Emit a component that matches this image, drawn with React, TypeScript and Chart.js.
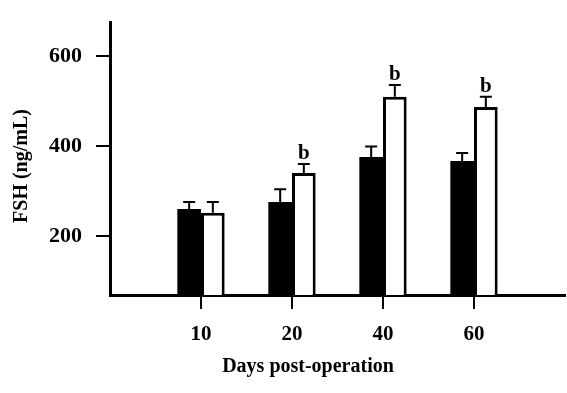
import React, { useEffect, useRef } from 'react';
import { Chart, registerables } from 'chart.js';
Chart.register(...registerables);

const categories = ['10', '20', '40', '60'];
const controlMeans = [260, 276, 376, 367];
const controlErrors = [16, 28, 23, 18];
const treatedMeans = [252, 340, 510, 487];
const treatedErrors = [24, 20, 26, 23];
const treatedMarks = ['', 'b', 'b', 'b'];
const yTicks = [200, 400, 600];
const xTitle = 'Days post-operation';
const yTitle = 'FSH (ng/mL)';

const SERIF = "'Liberation Serif', 'Times New Roman', 'DejaVu Serif', serif";

const errorPlugin = {
  id: 'errorBars',
  afterDatasetsDraw(chart: any) {
    const ctx = chart.ctx;
    const yScale = chart.scales.y;
    const sets = [
      { means: controlMeans, errs: controlErrors, marks: null as string[] | null },
      { means: treatedMeans, errs: treatedErrors, marks: treatedMarks },
    ];
    ctx.save();
    ctx.strokeStyle = '#000';
    ctx.fillStyle = '#000';
    ctx.lineWidth = 2;
    sets.forEach((s, di) => {
      const meta = chart.getDatasetMeta(di);
      meta.data.forEach((bar: any, j: number) => {
        const x = bar.x;
        const yTop = yScale.getPixelForValue(s.means[j] + s.errs[j]);
        const yBar = bar.y;
        ctx.beginPath();
        ctx.moveTo(x, yBar);
        ctx.lineTo(x, yTop);
        ctx.moveTo(x - 6, yTop);
        ctx.lineTo(x + 6, yTop);
        ctx.stroke();
        if (s.marks && s.marks[j]) {
          ctx.font = `bold 21px ${SERIF}`;
          ctx.textAlign = 'center';
          ctx.textBaseline = 'alphabetic';
          ctx.fillText(s.marks[j], x, yTop - 5);
        }
      });
    });
    ctx.restore();
  },
};

const titlePlugin = {
  id: 'axisTitles',
  afterDraw(chart: any) {
    const ctx = chart.ctx;
    ctx.save();
    ctx.fillStyle = '#000';
    ctx.font = `bold 20px ${SERIF}`;
    ctx.textAlign = 'center';
    ctx.textBaseline = 'middle';
    ctx.fillText(xTitle, 308, 367);
    ctx.translate(22, 166);
    ctx.rotate(-Math.PI / 2);
    ctx.font = `bold 20px ${SERIF}`;
    ctx.fillText(yTitle, 0, 0);
    ctx.restore();
  },
};

export default function App() {
  const ref = useRef<HTMLCanvasElement | null>(null);
  useEffect(() => {
    if (!ref.current) return;
    const chart = new Chart(ref.current, {
      type: 'bar',
      data: {
        datasets: [
          {
            label: 'Control',
            data: controlMeans.map((v, i) => ({ x: i + 1, y: v })),
            backgroundColor: '#000',
            borderColor: '#000',
            borderWidth: 0,
            categoryPercentage: 0.52,
            barPercentage: 1,
          },
          {
            label: 'Treated',
            data: treatedMeans.map((v, i) => ({ x: i + 1, y: v })),
            backgroundColor: '#fff',
            borderColor: '#000',
            borderWidth: 3,
            categoryPercentage: 0.52,
            barPercentage: 1,
          },
        ],
      },
      options: {
        responsive: false,
        animation: false,
        layout: { padding: { left: 0, top: 22, right: 2, bottom: 0 } },
        plugins: { legend: { display: false }, tooltip: { enabled: false } },
        scales: {
          x: {
            type: 'linear',
            min: 0,
            max: 5,
            offset: false,
            afterBuildTicks: (scale: any) => {
              scale.ticks = categories.map((_, i) => ({ value: i + 1 }));
            },
            afterFit: (scale: any) => {
              scale.height = 98;
              scale.paddingLeft = 0;
              scale.paddingRight = 0;
            },
            grid: {
              display: true,
              offset: false,
              drawOnChartArea: false,
              drawTicks: true,
              tickLength: 14,
              color: '#000',
              lineWidth: 2,
            },
            border: { display: true, color: '#000', width: 3 },
            ticks: {
              color: '#000',
              padding: 13,
              maxRotation: 0,
              autoSkip: false,
              font: { family: SERIF, size: 21, weight: 'bold' },
              callback: (value: any) => categories[Math.round(value) - 1] ?? '',
            },
          },
          y: {
            type: 'linear',
            min: 69,
            max: 676,
            beginAtZero: false,
            afterBuildTicks: (scale: any) => {
              scale.ticks = yTicks.map((v) => ({ value: v }));
            },
            afterFit: (scale: any) => {
              scale.width = 110;
              scale.paddingTop = 0;
              scale.paddingBottom = 0;
            },
            grid: {
              display: true,
              drawOnChartArea: false,
              drawTicks: true,
              tickLength: 14,
              color: '#000',
              lineWidth: 2,
            },
            border: { display: true, color: '#000', width: 3 },
            ticks: {
              color: '#000',
              padding: 14,
              font: { family: SERIF, size: 22, weight: 'bold' },
            },
          },
        },
      },
      plugins: [errorPlugin, titlePlugin],
    } as any);
    return () => chart.destroy();
  }, []);
  return (
    <div style={{ position: 'absolute', left: 0, top: 0, width: 567, height: 393, background: '#fff' }}>
      <canvas ref={ref} width={567} height={393} style={{ display: 'block' }} />
    </div>
  );
}
